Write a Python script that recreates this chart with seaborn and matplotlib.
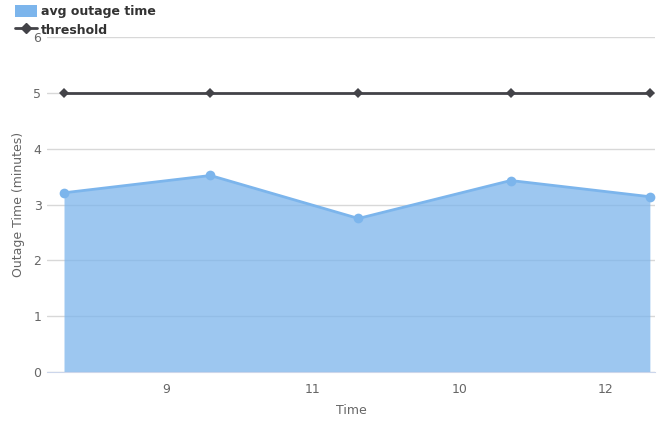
import numpy as np
import pandas as pd
import matplotlib
matplotlib.use("Agg")
import matplotlib.pyplot as plt
import seaborn as sns
from matplotlib.lines import Line2D
from matplotlib.patches import Patch

# data
point_pos = [0, 1.0, 2.01, 3.05, 4]
avg_outage = [3.21, 3.52, 2.75, 3.43, 3.14]
threshold = [5, 5, 5, 5, 5]
tick_pos = [0.70, 1.70, 2.70, 3.70]
tick_labels = ["9", "11", "10", "12"]

AREA = "#7cb5ec"
DARK = "#434348"

sns.set_style("white")
plt.rcParams["font.family"] = ["DejaVu Sans"]

df = pd.DataFrame({"pos": point_pos, "avg": avg_outage, "thr": threshold})

fig = plt.figure(figsize=(6.67, 4.21), dpi=100)
ax = fig.add_axes([0.0705, 0.1164, 0.9115, 0.7956])

ax.fill_between(df["pos"], df["avg"], 0, color=AREA, alpha=0.75, linewidth=0, zorder=2)
sns.lineplot(data=df, x="pos", y="avg", color=AREA, linewidth=2, marker="o",
             markersize=7, markeredgewidth=0, ax=ax, zorder=3)
sns.lineplot(data=df, x="pos", y="thr", color=DARK, linewidth=2, marker="D",
             markersize=5, markeredgewidth=0, ax=ax, zorder=4)

ax.set_xlim(-0.116, 4.035)
ax.set_ylim(0, 6)
ax.set_yticks(range(7))
ax.yaxis.grid(True, color="#d8d8d8", linewidth=1, zorder=0)
ax.set_axisbelow(True)

ax.set_xticks(tick_pos)
ax.set_xticklabels(tick_labels)
for s in ["top", "right", "left"]:
    ax.spines[s].set_visible(False)
ax.spines["bottom"].set_color("#ccd6eb")
ax.tick_params(axis="x", length=10, color="#ccd6eb", labelcolor="#666666",
               labelsize=9, pad=-2)
ax.tick_params(axis="y", length=0, labelcolor="#666666", labelsize=9, pad=4)

ax.set_xlabel("Time", color="#666666", fontsize=9, labelpad=6)
ax.set_ylabel("Outage Time (minutes)", color="#666666", fontsize=9, labelpad=6)

handles = [Patch(facecolor=AREA, edgecolor="none"),
           Line2D([0], [0], color=DARK, linewidth=2, marker="D", markersize=5)]
leg = fig.legend(handles, ["avg outage time", "threshold"], loc="upper left",
                 bbox_to_anchor=(0.01, 1.01), frameon=False, handlelength=1.7,
                 handleheight=1.2, handletextpad=0.35, labelspacing=0.4,
                 borderaxespad=0.3, prop={"size": 9, "weight": "bold"})
for t in leg.get_texts():
    t.set_color("#333333")

fig.savefig("out.png", dpi=100)
